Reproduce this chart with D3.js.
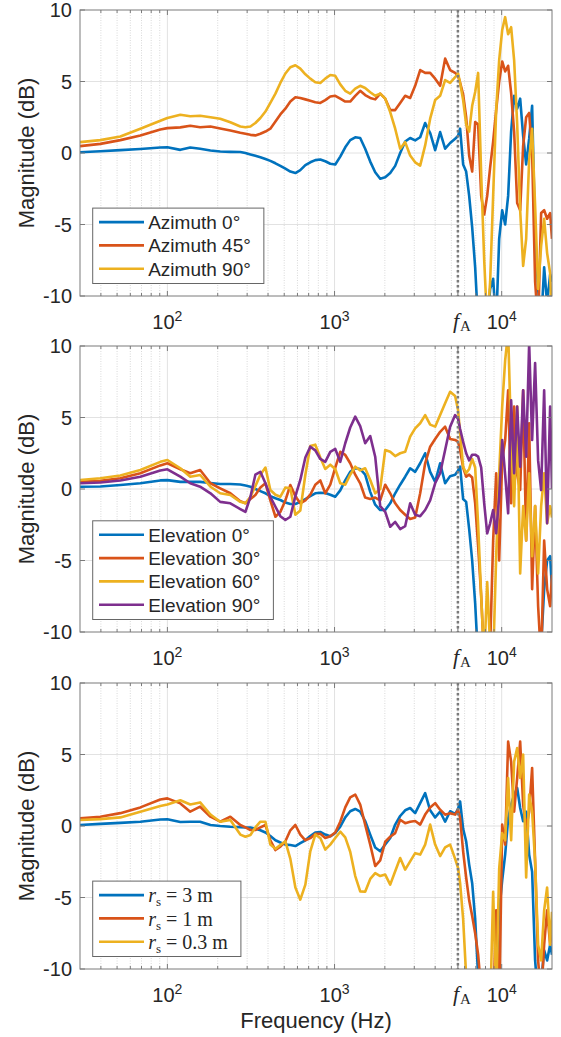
<!DOCTYPE html>
<html>
<head>
<meta charset="utf-8">
<script src="https://cdn.jsdelivr.net/npm/d3@7"></script>
<style>
body { margin: 0; background: #fff; }
svg { display: block; }
</style>
</head>
<body>
<div id="chart"></div>
<script>
// frequency grid (Hz) shared by every curve
var freq = [30, 39.7, 52.3, 68.9, 90.7, 100, 119.5, 137, 157, 181, 207, 238, 273,
    293, 314, 336, 360, 386, 413, 443, 474, 508, 544, 583, 624, 669, 716, 767, 822, 880, 943,
    1010, 1082, 1159, 1241, 1330, 1424, 1525, 1635, 1751, 1876, 2010, 2153, 2306, 2470, 2646,
    2834, 3036, 3253, 3485, 3733, 3999, 4283, 4588, 4915, 5266, 5486,
    5640, 5880, 6130, 6390, 6660, 6940, 7230, 7540, 7860, 8190, 8530, 8890, 9270, 9660, 10070,
    10490, 10930, 11390, 11870, 12380, 12900, 13440, 14010, 14600, 15210, 15850, 16520, 17220,
    17950, 18700, 19490, 20000];

// top panel: azimuth
var az0 = [0.05, 0.12, 0.2, 0.28, 0.38, 0.4, 0.22, 0.38, 0.3, 0.18, 0.1, 0.08, 0.07,
    0.0, -0.1, -0.2, -0.3, -0.42, -0.55, -0.72, -0.9, -1.1, -1.3, -1.4, -1.2, -0.85, -0.65, -0.5,
    -0.46, -0.58, -0.75, -0.8, -0.25, 0.4, 0.9, 1.1, 1.05, 0.3, -0.6, -1.35, -1.8, -1.7, -1.4,
    -0.9, 0.0, 0.8, 1.05, 0.88, 1.1, 2.1, 1.4, 0.2, 1.46, 0.3, 0.7, 1.0, 1.2,
    1.7, -0.8, -1.3, -3.0, -5.2, -8, -12, -13, -13, -12, -9.5, -8.8, -12, -6, -4,
    -5, -3, 1.5, 4, 3.1, 3.8, 1.2, -0.8, 1.0, 3.3, -6, -9.5, -12, -8, -10.5, -8.5, -9];
var az45 = [0.48, 0.64, 0.9, 1.23, 1.65, 1.74, 1.79, 1.9, 1.8, 1.85, 1.72, 1.58, 1.42,
    1.35, 1.27, 1.23, 1.35, 1.5, 1.7, 2.2, 2.7, 3.1, 3.6, 3.9, 3.85, 3.75, 3.65, 3.55,
    3.5, 3.7, 3.95, 4.0, 3.8, 3.6, 3.6, 4.0, 4.35, 4.05, 3.85, 3.75, 4.15, 3.8, 3.0,
    3.0, 3.5, 4.0, 3.85, 4.7, 5.8, 5.6, 5.6, 5.2, 4.7, 6.6, 5.8, 5.6, 5.4,
    4.9, 4.1, 2.5, -0.2, -1.3, 2.16, 2.0, -3.0, -4.3, -3.0, -1.0, 0.8, 3.0, 5.0, 6.4,
    5.7, 6.1, 4.2, 1.5, -3.5, -4.0, 0.5, 2.5, 2.8, 0.0, -9, -12, -4.2, -4.0, -4.6, -4.2, -6];
var az90 = [0.76, 0.9, 1.15, 1.7, 2.25, 2.45, 2.68, 2.57, 2.6, 2.5, 2.4, 2.15, 1.85,
    1.8, 1.85, 2.1, 2.45, 2.9, 3.5, 4.15, 4.9, 5.56, 6.0, 6.14, 5.9, 5.5, 5.2, 4.95,
    4.9, 5.2, 5.45, 5.4, 4.8, 4.35, 4.15, 4.5, 4.7, 4.55, 4.25, 4.0, 4.15, 3.8, 2.86,
    1.7, 0.3, 0.76, -0.18, -0.65, -0.88, 0.53, 2.4, 3.7, 4.0, 5.1, 4.9, 5.3, 5.56,
    4.9, 3.7, 2.0, 1.5, 3.3, 4.27, 5.6, -1.5, -7.5, -12, -9, -3, 3, 6.5, 8.6,
    9.5, 8.3, 8.8, 6.5, 2.0, -4, -7.9, -6, -0.5, 1.7, -3.7, -9.5, -6.5, -4.6, -7, -8.4, -12];

// middle panel: elevation
var el0 = [0.16, 0.18, 0.28, 0.4, 0.6, 0.62, 0.5, 0.5, 0.5, 0.42, 0.35, 0.35, 0.32,
    0.25, 0.16, 0.0, -0.15, -0.3, -0.5, -0.65, -0.77, -0.95, -1.05, -1.05, -0.9, -0.7, -0.5, -0.3,
    -0.26, -0.28, -0.4, -0.54, -0.1, 0.6, 1.2, 1.45, 1.4, 1.0, -0.2, -1.1, -1.47, -1.47, -1.0,
    -0.3, 0.3, 0.86, 1.45, 1.2, 1.8, 2.5, 1.2, 0.5, 1.8, 0.4, 0.9, 1.0, 1.3,
    1.56, -0.7, -0.9, -2.8, -5.0, -8.0, -12, -13, -13, -13, -13, -13, -13, -13, -13,
    -13, -13, -13, -13, -12, -13, -13, -13, -13, -13, -12, -13, -11, -7, -5, -4.7, -7];
var el30 = [0.5, 0.58, 0.75, 1.1, 1.65, 1.8, 1.38, 1.1, 1.33, 0.4, 0.05, -0.3, -0.85,
    -1.0, -0.7, -0.42, 0.1, 0.4, -0.8, -1.94, -1.6, -0.8, 0.28, -0.5, -1.0, -0.8, -0.4, 0.3,
    0.6, -0.3, 0.3, 1.5, 2.6, 2.38, 1.8, 1.0, 0.4, -0.6, -0.7, -0.6, -0.8, 0.3, -0.3,
    -1.0, -1.47, -1.8, -2.1, -2.0, -0.3, 1.8, 2.96, 3.5, 4.0, 4.36, 3.5, 3.43, 3.3,
    2.73, 1.5, 0.86, 1.0, 0.8, -1.0, -4.0, -7.5, -12, -13, -11, -3.6, 1.1, -5.0, 2.0,
    3.4, 6.9, -1.0, 5.76, 1.0, -0.07, 6.9, -3.6, 4.6, -7.0, -1.2, -8.2, -12, -3.6, -7.0, -8.2, -6];
var el60 = [0.63, 0.75, 0.95, 1.33, 1.9, 2.03, 1.45, 0.86, 0.98, 0.16, -0.3, -0.42, -0.9,
    -1.0, -0.54, 0.2, 1.0, 1.5, -0.07, -0.4, -0.54, 0.1, 0.05, -1.8, -1.5, 1.0, 3.0, 3.1,
    2.2, 1.4, 1.7, 1.4, 0.4, 0.3, 1.0, 1.56, 1.3, 1.45, 0.63, -0.3, 0.0, 2.73, 2.6,
    2.3, 2.5, 2.6, 3.66, 4.24, 4.6, 5.17, 4.5, 4.36, 5.17, 6.0, 6.8, 6.5, 5.5,
    3.9, 1.56, 1.1, 1.4, 2.1, 1.5, -2.5, -7.5, -12, -6.5, -11, -12, -4.7, 1.1, 5.76,
    9.0, 11, 3.4, -1.2, 5.76, -5.9, -1.2, -3.6, 1.1, -4.7, -1.2, -5.9, -1.2, 1.1, -2.4, -1.2, -2];
var el90 = [0.4, 0.45, 0.6, 0.86, 1.3, 1.38, 0.86, 0.4, 0.16, -0.3, -0.9, -1.0, -1.4,
    -1.6, -0.54, 1.0, 1.2, 0.4, -0.54, -1.24, -1.9, -2.17, -1.94, -0.5, 0.63, 2.2, 2.96, 2.7,
    2.1, 1.9, 2.6, 2.8, 1.9, 3.2, 4.3, 5.06, 4.4, 3.2, 3.7, 2.26, -1.2, -1.6, -2.64,
    -2.3, -2.8, -2.6, -1.0, -1.8, -1.9, -1.47, -0.8, 0.4, 1.1, 2.73, 4.36, 5.17, 4.9,
    4.2, 3.3, 2.5, 2.0, 2.4, 2.4, 2.26, 1.5, -1.0, -3.1, -2.4, -1.47, -3.1, -0.5, 3.43,
    1.0, -1.7, 6.2, 1.1, 5.76, 1.56, 6.9, 2.26, 10.2, 3.43, 8.8, 2.0, -0.07, 6.9, -2.4, 5.76, 0];

// bottom panel: source distance
var rs3 = [0.07, 0.15, 0.22, 0.3, 0.45, 0.47, 0.28, 0.3, 0.3, 0.07, 0.0, -0.05, -0.08,
    -0.1, -0.1, -0.2, -0.3, -0.45, -0.7, -1.0, -1.15, -1.3, -1.33, -1.4, -1.2, -1.0, -0.7, -0.45,
    -0.42, -0.6, -0.72, -0.49, -0.05, 0.6, 1.03, 1.19, 1.0, 0.35, -0.6, -1.5, -1.77, -1.3, -0.84,
    0.1, 0.7, 1.1, 1.26, 0.9, 1.6, 2.3, 1.1, 0.6, 1.0, 0.3, 1.03, 0.85, 1.2,
    1.72, -0.2, -1.07, -2.7, -4.0, -6.5, -10.5, -13, -13, -13, -13, -13, -11, -6.0, -3.8,
    -2.0, 0.5, 1.5, 2.19, 2.66, 1.26, 0.33, 1.0, -2.0, -3.2, -9.4, -12, -11, -8.7, -9.4, -8.3, -9];
var rs1 = [0.53, 0.65, 0.9, 1.3, 1.85, 1.93, 1.58, 1.0, 1.35, 0.65, 0.3, 0.65, 0.07,
    -0.1, -0.28, -0.28, -0.1, 0.07, -1.0, -1.68, -1.45, -1.07, -0.3, 0.07, -0.6, -1.0, -0.85, -0.55,
    -0.55, -0.84, -0.72, -0.45, 0.3, 1.3, 2.0, 2.2, 1.5, 0.1, -1.3, -2.8, -2.4, -1.1, -0.75,
    -0.5, 0.44, 0.2, 0.3, 0.35, 0.1, 0.8, 1.3, 1.6, 1.14, 0.79, 0.9, 0.8, 1.14,
    0.56, -1.77, -3.6, -5.2, -6.3, -7.5, -9.0, -11.5, -13, -13, -13, -13, -5.9, -13, 0.1,
    -1.3, 5.9, 4.5, 1.0, 3.36, 5.9, 1.5, -0.14, 1.0, 4.06, -2.5, -9.4, -12, -8.3, -5.9, -8.3, -7];
var rs03 = [0.42, 0.48, 0.6, 1.0, 1.4, 1.5, 1.8, 1.5, 1.65, 0.8, 0.3, 0.42, -0.6,
    -0.75, -0.63, -0.1, 0.3, 0.3, -1.3, -1.6, -1.33, -1.07, -2.3, -4.3, -5.15, -4.1, -1.77, -0.6,
    -0.84, -1.65, -1.3, -0.84, -0.4, -0.8, -1.8, -3.5, -4.57, -4.6, -3.7, -3.3, -3.5, -3.4, -4.1,
    -3.17, -2.24, -3.05, -2.47, -1.9, -2.0, -1.3, 0.1, -1.3, -2.1, -1.5, -1.3, -2.3, -2.94,
    -4.0, -6.5, -10.5, -13, -13, -13, -13, -13, -13, -13, -13, -4.6, -12, -3.0, -0.5,
    -1.0, 3.36, -1.0, 4.5, 5.45, 3.36, 5.0, -3.6, 2.2, 1.0, -2.5, -8.3, -9.4, -5.9, -4.3, -8.3, -6];

var azLabels = ["Azimuth 0°", "Azimuth 45°", "Azimuth 90°"];
var elLabels = ["Elevation 0°", "Elevation 30°", "Elevation 60°", "Elevation 90°"];
var rsValues = ["3", "1", "0.3"];
var yTicks = [-10, -5, 0, 5, 10];
var xTickExp = [2, 3, 4];
var fA = 5470;

var W = 561, H = 1037;
var left = 80, right = 552, plotH = 286;
var tops = [10, 346, 683];
var colors = ["#0072BD", "#D95319", "#EDB120", "#7E2F8E"];
var sans = "'Liberation Sans', Arial, Helvetica, sans-serif";
var serif = "'Liberation Serif', 'Times New Roman', serif";
var ink = "#262626";

var panels = [
    { series: [az0, az45, az90], labels: azLabels },
    { series: [el0, el30, el60, el90], labels: elLabels },
    { series: [rs3, rs1, rs03], labels: rsValues, math: true }
];

var svg = d3.select("#chart").append("svg")
    .attr("width", W)
    .attr("height", H);
svg.append("rect").attr("width", W).attr("height", H).attr("fill", "#fff");

var x = d3.scaleLog().domain([30, 20000]).range([left, right]);

// minor log ticks between the decades
var minorX = [];
for (var d = 1; d <= 4; d++) {
    for (var k = 2; k <= 9; k++) {
        var f = k * Math.pow(10, d);
        if (f > 30 && f < 20000) minorX.push(f);
    }
}
var majorX = xTickExp.map(function (e) { return Math.pow(10, e); }).concat([fA]);

panels.forEach(function (p, i) {
    var top = tops[i], bottom = top + plotH;
    var y = d3.scaleLinear().domain([-10, 10]).range([bottom, top]);
    var g = svg.append("g");

    g.append("clipPath").attr("id", "clip" + i)
        .append("rect")
        .attr("x", left).attr("y", top)
        .attr("width", right - left).attr("height", plotH);

    // grid
    g.selectAll(".minor").data(minorX).enter().append("line")
        .attr("x1", function (f) { return x(f); })
        .attr("x2", function (f) { return x(f); })
        .attr("y1", top).attr("y2", bottom)
        .attr("stroke", "#cfcfcf")
        .attr("stroke-width", 0.8)
        .attr("stroke-dasharray", "1,1.5");
    g.selectAll(".majx").data(majorX).enter().append("line")
        .attr("x1", function (f) { return x(f); })
        .attr("x2", function (f) { return x(f); })
        .attr("y1", top).attr("y2", bottom)
        .attr("stroke", "#e2e2e2");
    g.selectAll(".majy").data(yTicks.slice(1, -1)).enter().append("line")
        .attr("x1", left).attr("x2", right)
        .attr("y1", function (v) { return y(v); })
        .attr("y2", function (v) { return y(v); })
        .attr("stroke", "#e2e2e2");

    // curves
    var line = d3.line()
        .x(function (v, j) { return x(freq[j]); })
        .y(function (v) { return y(v); });
    var curves = g.append("g").attr("clip-path", "url(#clip" + i + ")");
    p.series.forEach(function (s, j) {
        curves.append("path")
            .attr("d", line(s))
            .attr("fill", "none")
            .attr("stroke", colors[j])
            .attr("stroke-width", 2.6)
            .attr("stroke-linejoin", "round");
    });

    // f_A marker
    g.append("line")
        .attr("x1", x(fA)).attr("x2", x(fA))
        .attr("y1", top).attr("y2", bottom)
        .attr("stroke", "#7a7a7a")
        .attr("stroke-width", 2.5)
        .attr("stroke-dasharray", "2.5,2.5");

    // axes box and inward ticks
    g.append("rect")
        .attr("x", left).attr("y", top)
        .attr("width", right - left).attr("height", plotH)
        .attr("fill", "none")
        .attr("stroke", "#7a7a7a");
    var tk = g.append("g").attr("stroke", "#7a7a7a");
    minorX.forEach(function (f) {
        tk.append("line").attr("x1", x(f)).attr("x2", x(f)).attr("y1", bottom).attr("y2", bottom - 3);
        tk.append("line").attr("x1", x(f)).attr("x2", x(f)).attr("y1", top).attr("y2", top + 3);
    });
    majorX.forEach(function (f) {
        tk.append("line").attr("x1", x(f)).attr("x2", x(f)).attr("y1", bottom).attr("y2", bottom - 5);
        tk.append("line").attr("x1", x(f)).attr("x2", x(f)).attr("y1", top).attr("y2", top + 5);
    });
    yTicks.forEach(function (v) {
        tk.append("line").attr("x1", left).attr("x2", left + 5).attr("y1", y(v)).attr("y2", y(v));
        tk.append("line").attr("x1", right).attr("x2", right - 5).attr("y1", y(v)).attr("y2", y(v));
    });

    // y tick labels
    g.selectAll(".ylab").data(yTicks).enter().append("text")
        .attr("x", left - 8)
        .attr("y", function (v) { return y(v); })
        .attr("dy", "0.36em")
        .attr("text-anchor", "end")
        .attr("font-family", sans)
        .attr("font-size", 20)
        .attr("fill", ink)
        .text(function (v) { return v; });

    // x tick labels 10^n
    xTickExp.forEach(function (e) {
        var t = g.append("text")
            .attr("x", x(Math.pow(10, e)))
            .attr("y", bottom + 33)
            .attr("text-anchor", "middle")
            .attr("font-family", sans)
            .attr("font-size", 20)
            .attr("fill", ink);
        t.append("tspan").text("10");
        t.append("tspan").attr("dy", -8).attr("font-size", 14).text(e);
    });
    var fl = g.append("text")
        .attr("x", x(fA) + 4)
        .attr("y", bottom + 32)
        .attr("text-anchor", "middle")
        .attr("font-family", serif)
        .attr("font-size", 22)
        .attr("fill", ink);
    fl.append("tspan").attr("font-style", "italic").text("f");
    fl.append("tspan").attr("dy", 3).attr("dx", 1).attr("font-size", 15).text("A");

    // y axis label
    g.append("text")
        .attr("transform", "translate(34," + ((top + bottom) / 2) + ") rotate(-90)")
        .attr("text-anchor", "middle")
        .attr("font-family", sans)
        .attr("font-size", 22)
        .attr("fill", ink)
        .text("Magnitude (dB)");

    // legend
    var n = p.labels.length, rowH = 23.3;
    var boxH = n * rowH + 5.5;
    var boxX = left + 12.7, boxY = bottom - 12.5 - boxH;
    var leg = g.append("g");
    var box = leg.append("rect")
        .attr("x", boxX).attr("y", boxY)
        .attr("height", boxH)
        .attr("fill", "#fff")
        .attr("stroke", "#666");
    var maxW = 0;
    p.labels.forEach(function (lab, j) {
        var ry = boxY + 14 + j * rowH;
        leg.append("line")
            .attr("x1", boxX + 6.3).attr("x2", boxX + 51.3)
            .attr("y1", ry).attr("y2", ry)
            .attr("stroke", colors[j])
            .attr("stroke-width", 2.6);
        var t = leg.append("text")
            .attr("x", boxX + 55.5)
            .attr("y", ry)
            .attr("dy", "0.36em")
            .attr("fill", ink);
        if (p.math) {
            t.attr("font-family", serif).attr("font-size", 20);
            t.append("tspan").attr("font-style", "italic").text("r");
            t.append("tspan").attr("font-size", 13).attr("dy", 4).text("s");
            t.append("tspan").attr("dy", -4).text(" = " + lab + " m");
        } else {
            t.attr("font-family", sans).attr("font-size", 19).text(lab);
        }
        maxW = Math.max(maxW, t.node().getComputedTextLength());
    });
    box.attr("width", 55.5 + maxW + 13);
});

svg.append("text")
    .attr("x", (left + right) / 2)
    .attr("y", 1028)
    .attr("text-anchor", "middle")
    .attr("font-family", sans)
    .attr("font-size", 22)
    .attr("fill", ink)
    .text("Frequency (Hz)");
</script>
</body>
</html>
